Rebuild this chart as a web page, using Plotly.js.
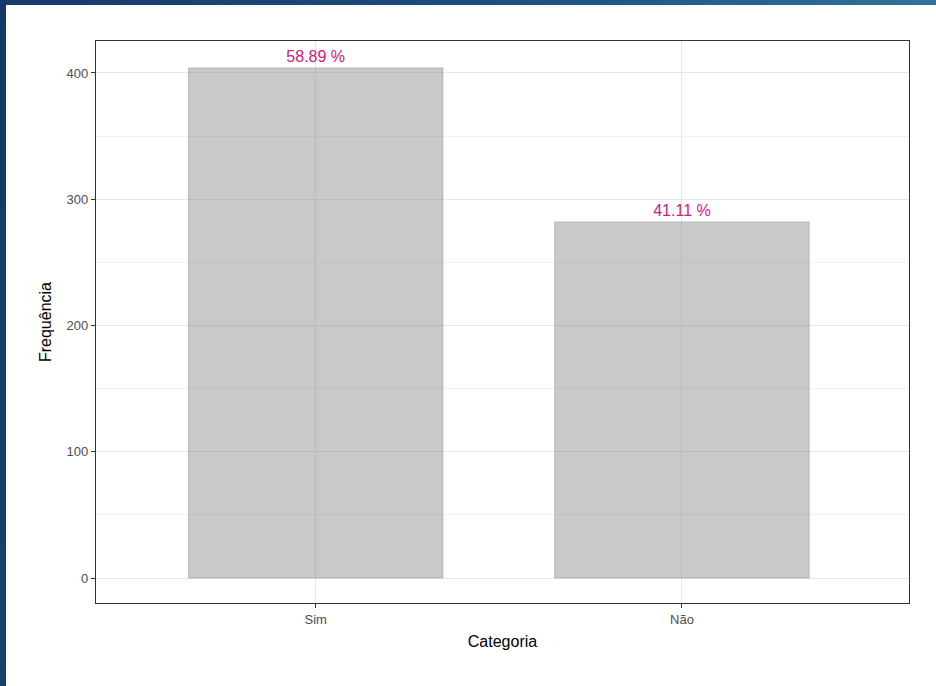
<!DOCTYPE html>
<html>
<head>
<meta charset="utf-8">
<script src="https://cdn.plot.ly/plotly-3.0.1.min.js"></script>
<style>
  html, body { margin: 0; padding: 0; width: 936px; height: 686px; overflow: hidden; }
  #frame { position: absolute; left: 0; top: 0; width: 936px; height: 686px;
           background: linear-gradient(90deg, #173a69 0%, #1d4c7c 50%, #2f7299 100%); }
  #white { position: absolute; left: 6px; top: 5px; width: 930px; height: 681px; background: #ffffff; }
  #leftbar { position: absolute; left: 0; top: 0; width: 6px; height: 686px;
             background: linear-gradient(180deg, #163868 0%, #1b3f6c 100%); }
  #chart { position: absolute; left: 0; top: 0; width: 936px; height: 686px; }
</style>
</head>
<body>
<div id="frame"></div>
<div id="leftbar"></div>
<div id="white"></div>
<div id="chart"></div>
<script>
const categories = ["Sim", "Não"];
const frequencias = [404, 282];

const total = frequencias.reduce((a, b) => a + b, 0);
const labels = frequencias.map(v => (v / total * 100).toFixed(2) + " %");

const trace = {
  type: "bar",
  x: categories,
  y: frequencias,
  text: labels,
  textposition: "outside",
  cliponaxis: false,
  textfont: { family: "Liberation Sans, Arial, sans-serif", size: 16, color: "#d0207a" },
  marker: { color: "rgba(120,120,120,0.4)", line: { color: "rgba(150,150,150,0.5)", width: 1 } },
  hoverinfo: "none"
};

const layout = {
  width: 936, height: 686,
  paper_bgcolor: "rgba(0,0,0,0)",
  plot_bgcolor: "#ffffff",
  margin: { l: 96, r: 27, t: 41, b: 83 },
  bargap: 0.305,
  showlegend: false,
  font: { family: "Liberation Sans, Arial, sans-serif", color: "#4d4d4d" },
  xaxis: {
    type: "category",
    range: [-0.6, 1.62],
    showgrid: true, gridcolor: "#e6e6e6", gridwidth: 1,
    showline: true, mirror: true, linecolor: "#333333", linewidth: 1.2,
    ticks: "outside", ticklen: 4, tickcolor: "#333333",
    tickfont: { size: 13, color: "#4d4d4d" },
    title: { text: "Categoria", font: { size: 16, color: "#000000" }, standoff: 10 },
    zeroline: false
  },
  yaxis: {
    range: [-19.8, 425.3],
    tickvals: [0, 100, 200, 300, 400],
    showgrid: true, gridcolor: "#e6e6e6", gridwidth: 1,
    minor: { tickvals: [50, 150, 250, 350], showgrid: true, gridcolor: "#f2f2f2", gridwidth: 1 },
    showline: true, mirror: true, linecolor: "#333333", linewidth: 1.2,
    ticks: "outside", ticklen: 4, tickcolor: "#333333",
    tickfont: { size: 13, color: "#4d4d4d" },
    title: { text: "Frequência", font: { size: 16, color: "#000000" }, standoff: 10 },
    zeroline: false
  }
};

Plotly.newPlot("chart", [trace], layout, { staticPlot: true, displayModeBar: false });
</script>
</body>
</html>
